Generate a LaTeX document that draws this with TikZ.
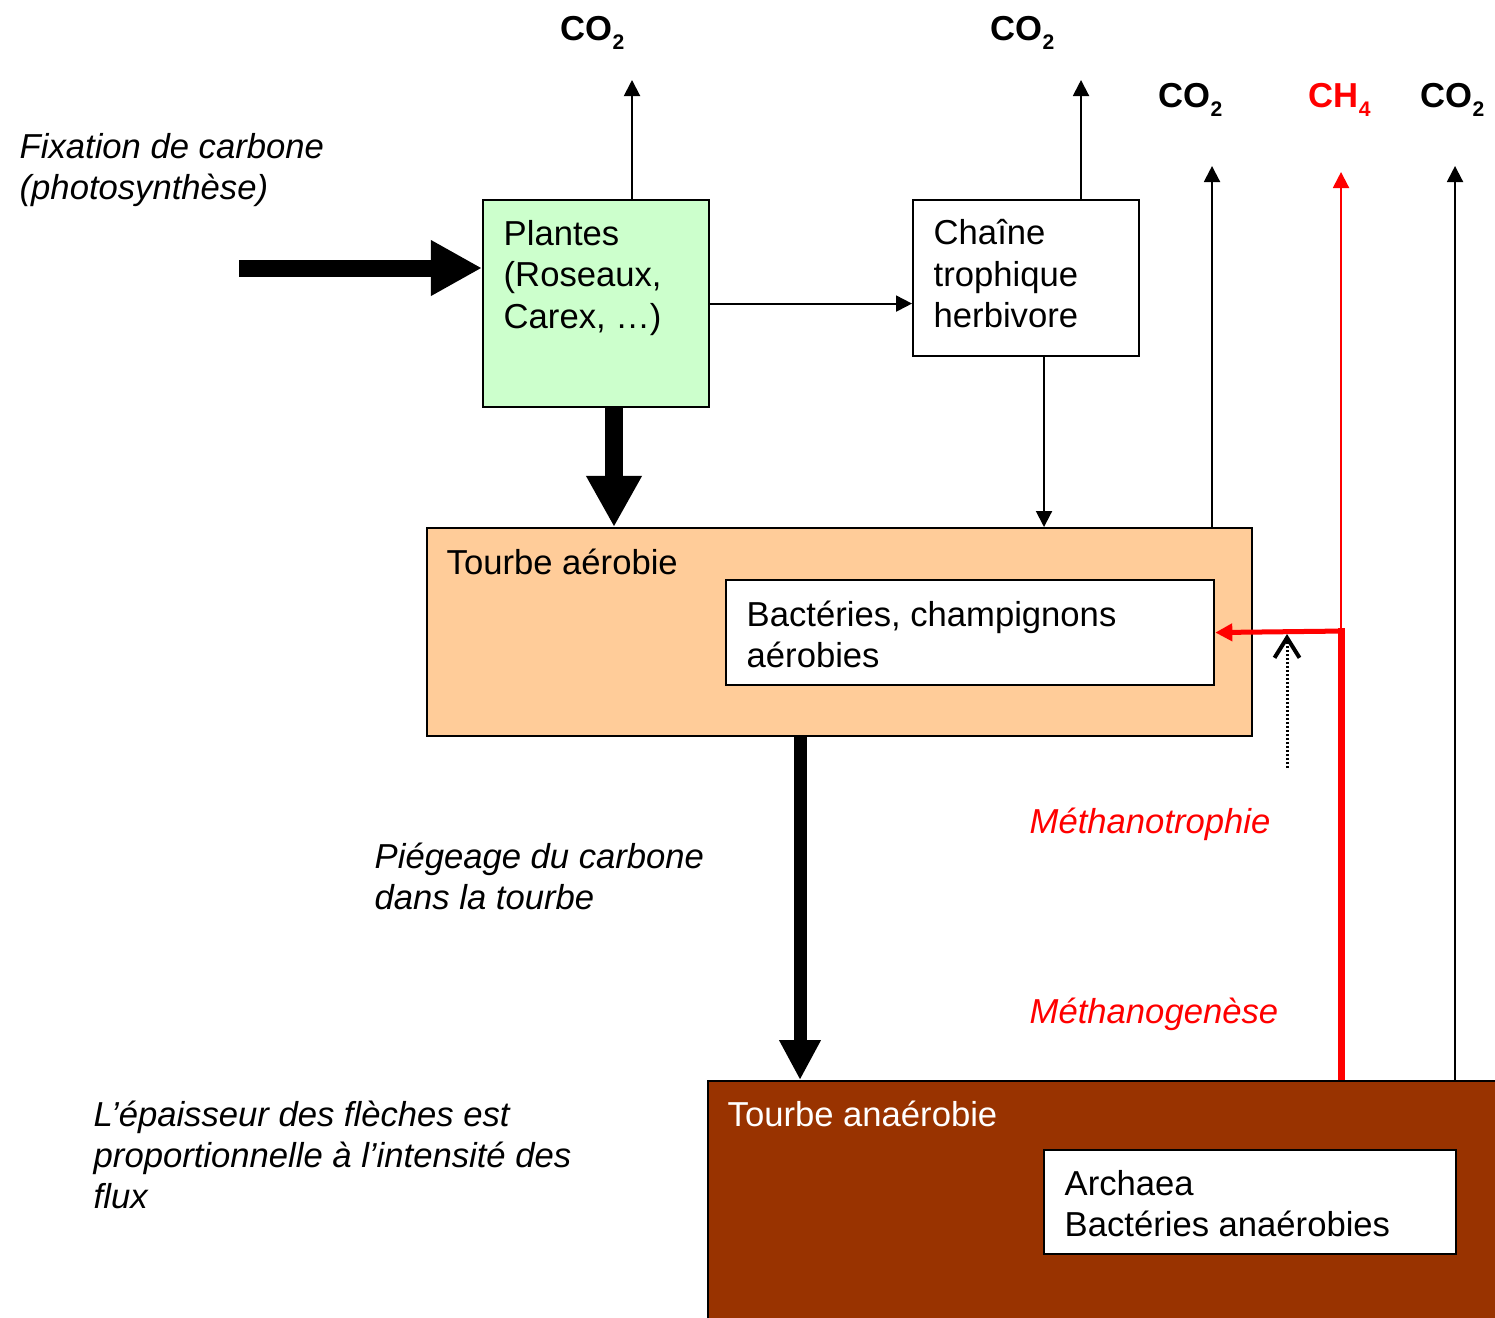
\documentclass[tikz,border=0pt]{standalone}
\usepackage{fontspec}
\setmainfont{Liberation Sans}
\usetikzlibrary{arrows.meta,positioning}
\definecolor{plantgreen}{HTML}{CCFFCC}
\definecolor{peat}{HTML}{FFCC99}
\definecolor{darkpeat}{HTML}{993300}
\newcommand{\chemsub}[1]{\raisebox{-0.5ex}{\fontsize{6}{7}\selectfont #1}}

\begin{document}
\begin{tikzpicture}[x=0.01cm,y=-0.01cm,
    box/.style={draw,line width=0.02cm,anchor=north west,inner sep=0pt},
    txt/.style={anchor=north west,inner sep=0pt,align=left,font=\fontsize{9.85}{11.7}\selectfont},
    itxt/.style={txt,font=\fontsize{9.85}{11.7}\selectfont\itshape},
    gas/.style={anchor=base west,inner sep=0pt,font=\fontsize{9.85}{12}\selectfont\bfseries},
    flux/.style={-{Triangle[length=0.16cm,width=0.16cm]},line width=0.02cm},
    bigflux/.style={-{Triangle[length=0.51cm,width=0.52cm]}}]
  \useasboundingbox (0,0) rectangle (1495,1317);
  \clip (0,0) rectangle (1495,1317);

  \node[box,fill=plantgreen,minimum width=2.26cm,minimum height=2.07cm] (plantes) at (482,199) {};
  \node[box,minimum width=2.26cm,minimum height=1.56cm] (chaine) at (912,199) {};
  \node[box,fill=peat,minimum width=8.24cm,minimum height=2.08cm] (aerobie) at (426,527) {};
  \node[box,fill=white,minimum width=4.88cm,minimum height=1.05cm] (bacteries) at (725,579) {};
  \node[box,fill=darkpeat,minimum width=7.95cm,minimum height=2.6cm] (anaerobie) at (707,1080) {};
  \node[box,fill=white,minimum width=4.12cm,minimum height=1.04cm] (archaea) at (1043,1149) {};

  \node[txt] (plantestxt) at ([shift={(21,21)}]plantes.north west) {Plantes\\(Roseaux,\\Carex, …)};
  \node[txt] (chainetxt) at ([shift={(21,20)}]chaine.north west) {Chaîne\\trophique\\herbivore};
  \node[txt] (aerobietxt) at ([shift={(20,21)}]aerobie.north west) {Tourbe aérobie};
  \node[txt] (bacteriestxt) at ([shift={(21,21)}]bacteries.north west) {Bactéries, champignons\\aérobies};
  \node[txt,text=white] (anaerobietxt) at ([shift={(20,20)}]anaerobie.north west) {Tourbe anaérobie};
  \node[txt] (archaeatxt) at ([shift={(21,21)}]archaea.north west) {Archaea\\Bactéries anaérobies};

  \node[itxt] (fixation) at (19,133) {Fixation de carbone\\(photosynthèse)};
  \node[itxt] (piegeage) at (374,842) {Piégeage du carbone\\dans la tourbe};
  \node[itxt] (legende) at (93,1100) {L’épaisseur des flèches est\\proportionnelle à l’intensité des\\flux};
  \node[itxt,text=red] (methanotrophie) at (1029,807) {Méthanotrophie};
  \node[itxt,text=red] (methanogenese) at (1029,997) {Méthanogenèse};

  \node[gas] (co2p) at (560,40) {CO\chemsub{2}};
  \node[gas] (co2h) at (990,40) {CO\chemsub{2}};
  \node[gas] (co2t) at (1158,107) {CO\chemsub{2}};
  \node[gas,text=red] (ch4) at (1308,107) {CH\chemsub{4}};
  \node[gas] (co2n) at (1420,107) {CO\chemsub{2}};

  \draw[bigflux,line width=0.17cm] (239,268) -- (plantes.west |- 0,268);
  \draw[bigflux,line width=0.18cm] (plantes.south -| 614,0) -- (aerobie.north -| 614,0);
  \draw[-{Triangle[length=0.40cm,width=0.39cm]},line width=0.13cm] (aerobie.south -| 800,0) -- (anaerobie.north -| 800,0);

  \draw[flux] (plantes.east) -- (plantes.east -| chaine.west);
  \draw[flux] (plantes.north -| 632,0) -- (632,80);
  \draw[flux] (chaine.north -| 1081,0) -- (1081,80);
  \draw[flux] (chaine.south -| 1044,0) -- (aerobie.north -| 1044,0);
  \draw[flux] (aerobie.north -| 1212,0) -- (1212,166);
  \draw[flux] (anaerobie.north -| 1455,0) -- (1455,166);

  \draw[red,line width=0.07cm] (anaerobie.north -| 1341,0) -- (1341,628) coordinate (mj);
  \draw[flux,red] (mj) -- (1341,172);
  \draw[red,line width=0.05cm,-{Triangle[length=0.17cm,width=0.17cm]}] (1344,631) -- (bacteries.east);
  \draw[line width=0.03cm,dash pattern=on 0.02cm off 0.02cm,-{Straight Barb[length=0.2cm,width=0.25cm,line width=0.04cm]}] (1287,768) -- (1287,634);
\end{tikzpicture}
\end{document}
